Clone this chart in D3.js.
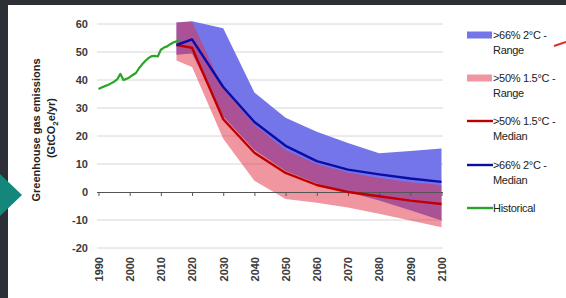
<!DOCTYPE html>
<html><head><meta charset="utf-8">
<script src="https://cdn.jsdelivr.net/npm/d3@7"></script>
<style>
html,body{margin:0;padding:0;background:#fff;}
svg{display:block;}
text{font-family:"Liberation Sans",Arial,sans-serif;}
</style></head>
<body>
<svg id="c" width="566" height="298"></svg>
<script>
// ---- data ----
const histYears = [1990,1991,1992,1993,1994,1995,1996,1997,1998,1999,2000,2001,2002,2003,2004,2005,2006,2007,2008,2009,2010,2011,2012,2013,2014,2015,2016];
const histValues = [36.8,37.3,37.8,38.2,38.8,39.4,40.2,42.2,40.0,40.4,41.0,41.8,42.5,44.2,45.6,46.8,47.8,48.5,48.6,48.4,50.8,51.6,52.0,52.8,53.4,53.8,54.5];

const scenYears = [2015,2020,2030,2040,2050,2060,2070,2080,2090,2100];
const t2Median = [52.5,54.5,37.5,25,16.5,11,8,6.3,4.8,3.6];
const t2Upper  = [60.5,61,58.5,35.5,26.5,21.5,17.5,13.8,14.6,15.5];
const t2Lower  = [49,49.5,27,15,7.5,3,0,-3,-6.5,-10.2];
const t15Median = [52.5,51.5,26,14,6.8,2.5,0,-1.5,-3.1,-4.3];
const t15Upper  = [60.5,60.8,37,24,15,10,7,5,3.5,2.5];
const t15Lower  = [47,44.6,19,4,-2.5,-3.8,-5.5,-7.8,-10.2,-12.6];

const yTicks = [-20,-10,0,10,20,30,40,50,60];
const xTicks = [1990,2000,2010,2020,2030,2040,2050,2060,2070,2080,2090,2100];

const legendItems = [
  {kind:"rect", color:"blue", lines:[">66% 2°C -","Range"]},
  {kind:"rect", color:"pink", lines:[">50% 1.5°C -","Range"]},
  {kind:"line", color:"red", lines:[">50% 1.5°C -","Median"]},
  {kind:"line", color:"navy", lines:[">66% 2°C -","Median"]},
  {kind:"line", color:"green", lines:["Historical"]}
];

// ---- styles ----
const C = {
  blue:{fill:"rgb(105,105,232)", op:0.92},
  pink:{fill:"rgb(225,45,65)", op:0.5},
  red:"#c00000", navy:"#0c0ca6", green:"#28a428"
};

const svg = d3.select("#c");
// background frame
svg.append("rect").attr("x",0).attr("y",0).attr("width",566).attr("height",298).attr("fill","#2c2f36");
svg.append("rect").attr("x",8).attr("y",5).attr("width",558).attr("height",293).attr("fill","#ffffff");

const x = d3.scaleLinear().domain([1990,2100]).range([98.5,441.5]);
const y = d3.scaleLinear().domain([-20,60]).range([248,24]);

// gridlines
svg.append("g").selectAll("line").data(yTicks.filter(d=>d!==0)).join("line")
  .attr("x1",97).attr("x2",443).attr("y1",d=>y(d)).attr("y2",d=>y(d))
  .attr("stroke","#d6d6d6").attr("stroke-width",1);

// y tick labels
svg.append("g").selectAll("text").data(yTicks).join("text")
  .attr("x",88).attr("y",d=>y(d)).attr("dy","0.35em").attr("text-anchor","end")
  .attr("font-size",11).attr("font-weight","bold").attr("fill","#3a3a3a").text(d=>d);

// x tick labels
svg.append("g").selectAll("text").data(xTicks).join("text")
  .attr("transform",d=>`translate(${x(d)+0.5},257) rotate(-90)`)
  .attr("text-anchor","end").attr("dy","0.35em")
  .attr("font-size",11).attr("font-weight","bold").attr("fill","#3a3a3a").text(d=>d);

// areas
const idx = d3.range(scenYears.length);
const area = (up,lo)=>d3.area().x(i=>x(scenYears[i])).y0(i=>y(lo[i])).y1(i=>y(up[i]));
svg.append("path").datum(idx).attr("d",area(t2Upper,t2Lower))
  .attr("fill",C.blue.fill).attr("fill-opacity",C.blue.op);
svg.append("path").datum(idx).attr("d",area(t15Upper,t15Lower))
  .attr("fill",C.pink.fill).attr("fill-opacity",C.pink.op);

// zero axis
const axis = svg.append("g");
axis.append("line").attr("x1",97).attr("x2",443).attr("y1",y(0)+0.5).attr("y2",y(0)+0.5)
  .attr("stroke","#555").attr("stroke-width",1);
axis.selectAll("line.t").data(xTicks).join("line").attr("class","t")
  .attr("x1",d=>x(d)+0.5).attr("x2",d=>x(d)+0.5).attr("y1",y(0)).attr("y2",y(0)+4)
  .attr("stroke","#555").attr("stroke-width",1);

// lines
const line = (ys,vs)=>d3.line().x(i=>x(ys[i])).y(i=>y(vs[i]));
svg.append("path").datum(d3.range(histYears.length)).attr("d",line(histYears,histValues))
  .attr("fill","none").attr("stroke",C.green).attr("stroke-width",2.2).attr("stroke-linejoin","round");
svg.append("path").datum(idx).attr("d",line(scenYears,t15Median))
  .attr("fill","none").attr("stroke",C.red).attr("stroke-width",2.4).attr("stroke-linejoin","round");
svg.append("path").datum(idx).attr("d",line(scenYears,t2Median))
  .attr("fill","none").attr("stroke",C.navy).attr("stroke-width",2.4).attr("stroke-linejoin","round");

// y axis title
const yt = svg.append("g").attr("font-weight","bold").attr("font-size",11).attr("fill","#222");
yt.append("text").attr("transform","translate(36,130) rotate(-90)").attr("text-anchor","middle")
  .attr("dy","0.35em").text("Greenhouse gas emissions");
const t2 = yt.append("text").attr("transform","translate(51,128) rotate(-90)").attr("text-anchor","middle").attr("dy","0.35em");
t2.append("tspan").text("(GtCO");
t2.append("tspan").attr("font-size",8).attr("dy","3").text("2");
t2.append("tspan").attr("dy","-3").text("e/yr)");

// legend
const legY = [35,78,121,165,208];
const lg = svg.append("g");
legendItems.forEach((it,k)=>{
  const cy = legY[k];
  if(it.kind==="rect"){
    const c = C[it.color];
    lg.append("rect").attr("x",467).attr("y",cy-3.5).attr("width",25).attr("height",7)
      .attr("fill",c.fill).attr("fill-opacity",c.op);
  } else {
    lg.append("line").attr("x1",467).attr("x2",493).attr("y1",cy).attr("y2",cy)
      .attr("stroke",C[it.color]).attr("stroke-width",2.4);
  }
  it.lines.forEach((s,j)=>{
    lg.append("text").attr("x",493).attr("y",cy+j*15.5).attr("dy","0.35em")
      .attr("font-size",11).attr("fill","#222").attr("letter-spacing","-0.3").text(s);
  });
});

// decorations: teal pointer and red mark
svg.append("path").attr("d","M0,174 L22,195 L0,216 Z").attr("fill","#12877a");
svg.append("path").attr("d","M554,46 L566,42").attr("stroke","#d8302a").attr("stroke-width",2).attr("fill","none");
</script>
</body></html>
